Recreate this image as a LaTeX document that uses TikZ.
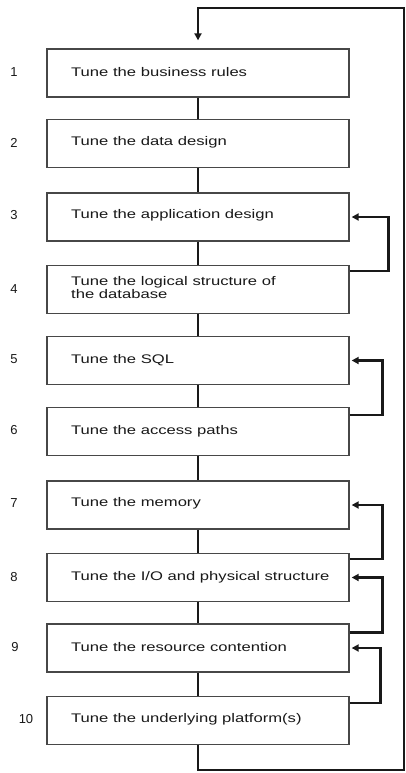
\documentclass[tikz,border=0pt]{standalone}
\usepackage{fontspec}
\setmainfont{Liberation Sans}
\usetikzlibrary{arrows.meta,calc}
\begin{document}
\begin{tikzpicture}[x=1pt,y=-1pt,
  stepbox/.style={draw=black!72,line width=1.3pt,minimum width=302pt,minimum height=48pt,inner sep=0pt},
  steptext/.style={anchor=west,inner sep=0pt,font=\fontsize{12.5}{13}\selectfont,text=black!90,align=left},
  stepnum/.style={inner sep=0pt,font=\fontsize{13}{14}\selectfont,text=black!90},
  conn/.style={line width=2.4pt,draw=black!90},
  fb/.style={line width=2.4pt,draw=black!90,-{Triangle[length=7pt,width=7pt]},shorten >=2pt},
]
\useasboundingbox (0,0) rectangle (406,773);
\fill[white] (0,0) rectangle (406,773);

\foreach \i/\y in {1/73,2/143.5,3/217,4/289.5,5/360.5,6/431.5,7/505,8/577.5,9/648,10/720.5}{
  \node[stepbox] (b\i) at (198,\y) {};
}
\node[stepnum] (n1) at (14,72) {1};
\node[stepnum] (n2) at (14,142.5) {2};
\node[stepnum] (n3) at (14,215) {3};
\node[stepnum] (n4) at (14,289) {4};
\node[stepnum] (n5) at (14,359) {5};
\node[stepnum] (n6) at (14,430) {6};
\node[stepnum] (n7) at (14,503) {7};
\node[stepnum] (n8) at (14,577) {8};
\node[stepnum] (n9) at (15,647) {9};
\node[stepnum] (n10) at (26,719) {10};

\newcommand{\sx}[1]{\scalebox{1.33}[1]{#1}}
\node[steptext] (t1) at (71,72) {\sx{Tune the business rules}};
\node[steptext] (t2) at (71,142.5) {\sx{Tune the data design}};
\node[steptext] (t3) at (71,215) {\sx{Tune the application design}};
\node[steptext] (t4) at (71,288) {\sx{Tune the logical structure of}\\\sx{the database}};
\node[steptext] (t5) at (71,360) {\sx{Tune the SQL}};
\node[steptext] (t6) at (71,431) {\sx{Tune the access paths}};
\node[steptext] (t7) at (71,503) {\sx{Tune the memory}};
\node[steptext] (t8) at (71,577) {\sx{Tune the I/O and physical structure}};
\node[steptext] (t9) at (71,647) {\sx{Tune the resource contention}};
\node[steptext] (t10) at (71,719) {\sx{Tune the underlying platform(s)}};

\foreach \a/\b in {1/2,2/3,3/4,4/5,5/6,6/7,7/8,8/9,9/10}{
  \draw[conn] (b\a.south) -- (b\b.north);
}

\draw[fb] ($(b4.north east)+(0,6)$) -- ++(39,0) |- (b3.east);
\draw[fb] ($(b6.north east)+(0,8)$) -- ++(33,0) |- (b5.east);
\draw[fb] ($(b8.north east)+(0,6)$) -- ++(33,0) |- (b7.east);
\draw[fb] ($(b9.north east)+(0,9)$) -- ++(33,0) |- (b8.east);
\draw[fb] ($(b10.north east)+(0,7)$) -- ++(31,0) |- (b9.east);

\coordinate (rb) at (404,770);
\coordinate (rt) at (404,8);
\draw[fb,shorten >=8pt] (b10.south) |- (rb) -- (rt) -| (b1.north);
\end{tikzpicture}
\end{document}
